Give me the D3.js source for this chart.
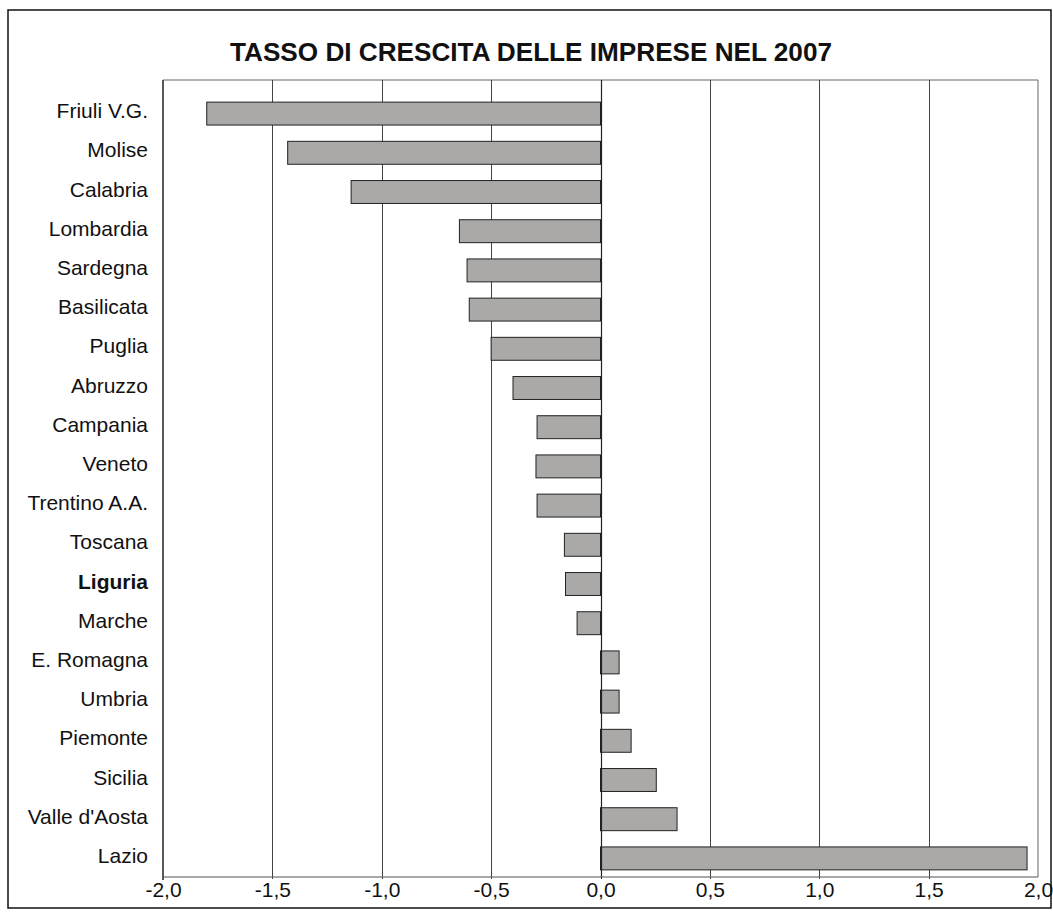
<!DOCTYPE html>
<html><head><meta charset="utf-8">
<script src="https://cdn.jsdelivr.net/npm/d3@7"></script>
<style>body{margin:0;background:#fff}svg{display:block}</style>
</head><body>
<svg id="c" width="1053" height="919"></svg>
<script>
const categories = ["Friuli V.G.","Molise","Calabria","Lombardia","Sardegna","Basilicata","Puglia","Abruzzo","Campania","Veneto","Trentino A.A.","Toscana","Liguria","Marche","E. Romagna","Umbria","Piemonte","Sicilia","Valle d'Aosta","Lazio"];
const values = [-1.80,-1.43,-1.14,-0.645,-0.61,-0.60,-0.50,-0.40,-0.29,-0.295,-0.29,-0.165,-0.16,-0.107,0.085,0.085,0.14,0.255,0.35,1.95];
const tickValues = [-2,-1.5,-1,-0.5,0,0.5,1,1.5,2];
const tickLabels = ["-2,0","-1,5","-1,0","-0,5","0,0","0,5","1,0","1,5","2,0"];
const highlight = "Liguria";
const title = "TASSO DI CRESCITA DELLE IMPRESE NEL 2007";

const svg = d3.select("#c");
const font = "'Liberation Sans', Arial, sans-serif";
const L = 163, R = 1038, T = 80, B = 877;

svg.append("rect").attr("x",8).attr("y",10).attr("width",1043).attr("height",898)
  .attr("fill","#fff").attr("stroke","#111").attr("stroke-width",1.5);

const x = d3.scaleLinear().domain([-2,2]).range([L,R]);
const y = d3.scaleBand().domain(categories).range([94,878]).paddingInner(0.415).paddingOuter(0.2075);

svg.append("line").attr("x1",L).attr("x2",R).attr("y1",T).attr("y2",T).attr("stroke","#666").attr("stroke-width",1);
svg.append("line").attr("x1",R).attr("x2",R).attr("y1",T).attr("y2",B).attr("stroke","#666").attr("stroke-width",1);

svg.append("g").selectAll("line").data(tickValues.slice(1,-1)).join("line")
  .attr("x1",d=>Math.round(x(d))+0.5).attr("x2",d=>Math.round(x(d))+0.5)
  .attr("y1",T).attr("y2",B+2)
  .attr("stroke",d=>d===0?"#222":"#444").attr("stroke-width",1);

svg.append("g").selectAll("rect").data(categories).join("rect")
  .attr("x",(d,i)=>x(Math.min(0,values[i])))
  .attr("y",d=>y(d))
  .attr("width",(d,i)=>Math.abs(x(values[i])-x(0)))
  .attr("height",y.bandwidth())
  .attr("fill","#aaa9a7").attr("stroke","#222").attr("stroke-width",1);

svg.append("line").attr("x1",Math.round(x(0))+0.5).attr("x2",Math.round(x(0))+0.5)
  .attr("y1",T).attr("y2",B).attr("stroke","#222").attr("stroke-width",1.2);

svg.append("line").attr("x1",L).attr("x2",L).attr("y1",T).attr("y2",B+3).attr("stroke","#222").attr("stroke-width",1.5);
svg.append("line").attr("x1",L).attr("x2",R).attr("y1",B).attr("y2",B).attr("stroke","#555").attr("stroke-width",1);

const xAxis = d3.axisBottom(x).tickValues(tickValues).tickFormat((d,i)=>tickLabels[i]).tickSize(0).tickPadding(0);
const gx = svg.append("g").attr("transform",`translate(0,${B})`).call(xAxis);
gx.select(".domain").remove();
gx.selectAll("text").attr("y",20).attr("dy",0).attr("font-family",font).attr("font-size",21).attr("fill","#111");

const yAxis = d3.axisLeft(y).tickSize(0).tickPadding(15);
const gy = svg.append("g").attr("transform",`translate(${L},0)`).call(yAxis);
gy.select(".domain").remove();
gy.selectAll("text").attr("font-family",font).attr("font-size",21).attr("fill","#111")
  .attr("dy","0.22em")
  .attr("font-weight",d=>d===highlight?"bold":"normal");

svg.append("text").attr("x",531).attr("y",61).attr("text-anchor","middle")
  .attr("font-family",font).attr("font-size",25).attr("font-weight","bold").attr("fill","#111")
  .attr("textLength",602).attr("lengthAdjust","spacingAndGlyphs").text(title);
</script>
</body></html>
